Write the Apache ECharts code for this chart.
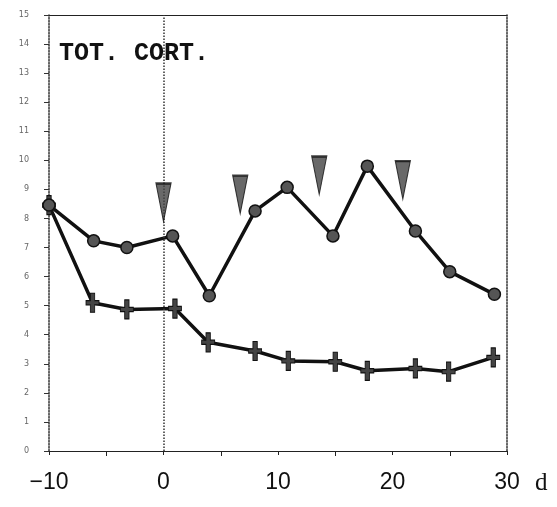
<!DOCTYPE html>
<html>
<head>
<meta charset="utf-8">
<style>
  html, body { margin: 0; padding: 0; background: #fff; }
  #chart-container { width: 557px; height: 507px; }
</style>
<script src="https://cdn.jsdelivr.net/npm/echarts@6/dist/echarts.min.js"></script>
</head>
<body>
<div id="chart-container"></div>
<script>
// days and total corticosteroid values
var circleDays = [-10, -6.1, -3.2, 0.8, 4.0, 8.0, 10.8, 14.8, 17.8, 22.0, 25.0, 28.9];
var circleValues = [8.46, 7.23, 7.0, 7.4, 5.34, 8.26, 9.07, 7.4, 9.8, 7.57, 6.17, 5.39];
var crossDays = [-10, -6.2, -3.2, 1.0, 3.9, 8.0, 10.9, 15.0, 17.8, 22.0, 24.9, 28.8];
var crossValues = [8.46, 5.1, 4.87, 4.9, 3.74, 3.44, 3.1, 3.07, 2.76, 2.84, 2.73, 3.22];
// arrow markers (dose days)
var arrowDays = [0, 6.7, 13.6, 20.9];
var arrowLevels = [8.55, 8.82, 9.48, 9.32];

var xTicks = [-10, 0, 10, 20, 30];

var dom = document.getElementById('chart-container');
var myChart = echarts.init(dom);
var option;

function pairs(xs, ys) {
  return xs.map(function (x, i) { return [x, ys[i]]; });
}

var crossPath = 'path://M4,0 H8 V7 H12 V11 H8 V18 H4 V11 H0 V7 H4 Z';
var arrowPath = 'path://M0,0 L12,0 L6,36 Z';

option = {
  animation: false,
  title: {
    text: 'TOT. CORT.',
    left: 54,
    top: 36,
    textStyle: {
      fontFamily: 'Liberation Mono',
      fontWeight: 'bold',
      fontSize: 25,
      color: '#111'
    }
  },
  grid: { left: 49, right: 50, top: 15, bottom: 56 },
  xAxis: [
    {
      type: 'value',
      min: -10,
      max: 30,
      interval: 10,
      splitLine: { show: false },
      axisLine: { onZero: false, lineStyle: { color: '#222', width: 1 } },
      axisTick: { show: true, length: 4, inside: false, lineStyle: { color: '#222' } },
      minorTick: { show: true, splitNumber: 2, length: 5, lineStyle: { color: '#222' } },
      axisLabel: {
        margin: 20,
        fontSize: 23,
        fontFamily: 'Liberation Sans',
        color: '#111',
        formatter: function (v) {
          if (xTicks.indexOf(v) < 0) return '';
          return v < 0 ? '\u2212' + Math.abs(v) : String(v);
        }
      },
      name: 'd',
      nameLocation: 'end',
      nameGap: 28,
      nameTextStyle: {
        fontFamily: 'Liberation Serif',
        fontSize: 25,
        color: '#111',
        verticalAlign: 'top',
        padding: [20, 0, 0, 0]
      }
    },
    {
      type: 'value',
      position: 'top',
      min: -10,
      max: 30,
      splitLine: { show: false },
      axisLine: { show: true, onZero: false, lineStyle: { color: '#222', width: 1 } },
      axisTick: { show: false },
      axisLabel: { show: false }
    }
  ],
  yAxis: [
    {
      type: 'value',
      min: 0,
      max: 15,
      interval: 1,
      splitLine: { show: false },
      axisLine: { show: true, onZero: false, lineStyle: { color: '#333', type: 'dotted', width: 1.5 } },
      axisTick: { show: true, length: 5, lineStyle: { color: '#333' } },
      axisLabel: {
        margin: 20,
        fontSize: 8,
        fontFamily: 'DejaVu Sans',
        color: '#666'
      }
    },
    {
      type: 'value',
      position: 'right',
      min: 0,
      max: 15,
      splitLine: { show: false },
      axisLine: { show: true, onZero: false, lineStyle: { color: '#333', type: 'dotted', width: 1.5 } },
      axisTick: { show: false },
      axisLabel: { show: false }
    }
  ],
  series: [
    {
      type: 'line',
      data: pairs(crossDays, crossValues),
      symbol: crossPath,
      symbolSize: [13, 19],
      lineStyle: { color: '#111', width: 3.5 },
      itemStyle: { color: '#444', borderColor: '#111', borderWidth: 1 },
      z: 3,
      markLine: {
        silent: true,
        symbol: 'none',
        label: { show: false },
        lineStyle: { color: '#333', type: 'dotted', width: 1.5 },
        data: [{ xAxis: 0 }]
      }
    },
    {
      type: 'line',
      data: pairs(circleDays, circleValues),
      symbol: 'circle',
      symbolSize: 12,
      showAllSymbol: true,
      lineStyle: { color: '#111', width: 3.5 },
      itemStyle: { color: '#555', borderColor: '#111', borderWidth: 1.5 },
      z: 4
    },
    {
      type: 'scatter',
      data: pairs(arrowDays, arrowLevels),
      symbol: arrowPath,
      symbolSize: [15, 38],
      itemStyle: { color: '#444', borderColor: '#111', borderWidth: 1.5 },
      z: 5
    }
  ]
};

if (option && typeof option === 'object') {
  myChart.setOption(option);
}

window.addEventListener('resize', myChart.resize);
</script>
</body>
</html>
